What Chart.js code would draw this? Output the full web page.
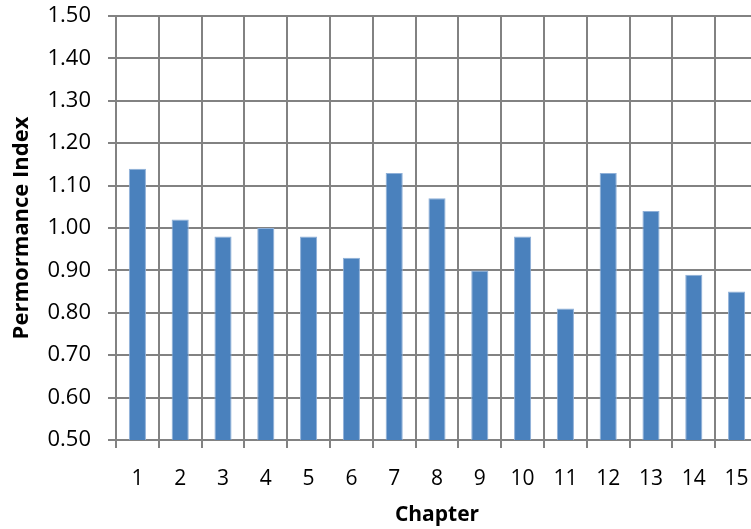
<!DOCTYPE html>
<html>
<head>
<meta charset="utf-8">
<script src="https://cdn.jsdelivr.net/npm/chart.js@4.4.0/dist/chart.umd.min.js"></script>
<style>
  html, body { margin: 0; padding: 0; background: #fff; overflow: hidden; }
  #wrap { width: 760px; height: 529px; }
</style>
</head>
<body>
<div id="wrap"><canvas id="myChart"></canvas></div>
<script>
// chapters on the x axis
const chapters = ['1', '2', '3', '4', '5', '6', '7', '8', '9', '10', '11', '12', '13', '14', '15'];
// performance index per chapter
const perfIndex = [1.14, 1.02, 0.98, 1.00, 0.98, 0.93, 1.13, 1.07, 0.90, 0.98, 0.81, 1.13, 1.04, 0.89, 0.85];
// y axis range
const yMin = 0.5;
const yMax = 1.5;
const yStep = 0.1;

const gridCol = '#828282';
const txtCol = '#000';
const fontFam = '"Open Sans", "Liberation Sans", sans-serif';

const ctx = document.getElementById('myChart').getContext('2d');

new Chart(ctx, {
  type: 'bar',
  data: {
    labels: chapters,
    datasets: [{
      label: 'Performance Index',
      data: perfIndex,
      backgroundColor: '#4a81bd',
      borderColor: '#8fb0d8',
      borderWidth: { top: 1, left: 1, right: 1, bottom: 0 },
      barPercentage: 0.4,
      categoryPercentage: 1.0
    }]
  },
  options: {
    responsive: true,
    maintainAspectRatio: false,
    animation: false,
    layout: { padding: { top: 16, right: 2, left: 0, bottom: 0 } },
    plugins: {
      legend: { display: false },
      tooltip: { enabled: false }
    },
    scales: {
      x: {
        offset: true,
        grid: { color: gridCol, lineWidth: 2, tickLength: 8, offset: true },
        border: { color: gridCol, width: 2 },
        ticks: { color: txtCol, font: { family: fontFam, size: 21 }, padding: 18, maxRotation: 0, minRotation: 0, autoSkip: false },
        title: { display: true, text: 'Chapter', color: txtCol, font: { family: fontFam, size: 21, weight: 'bold' }, padding: { top: 0, bottom: 1 } },
        afterFit: (scale) => {
          scale.height = 89;
          scale.paddingLeft = 0;
          scale.paddingRight = 0;
        }
      },
      y: {
        min: yMin,
        max: yMax,
        grid: { color: gridCol, lineWidth: 2, tickLength: 8 },
        border: { color: gridCol, width: 2 },
        ticks: {
          stepSize: yStep,
          color: txtCol,
          font: { family: fontFam, size: 22 },
          padding: 17,
          callback: (v) => v.toFixed(2)
        },
        title: { display: true, text: 'Permormance Index', color: txtCol, font: { family: fontFam, size: 22, weight: 'bold' }, padding: { top: 9, bottom: 0 } },
        afterFit: (scale) => {
          scale.width = 116;
          scale.paddingTop = 0;
          scale.paddingBottom = 0;
        }
      }
    }
  }
});
</script>
</body>
</html>
